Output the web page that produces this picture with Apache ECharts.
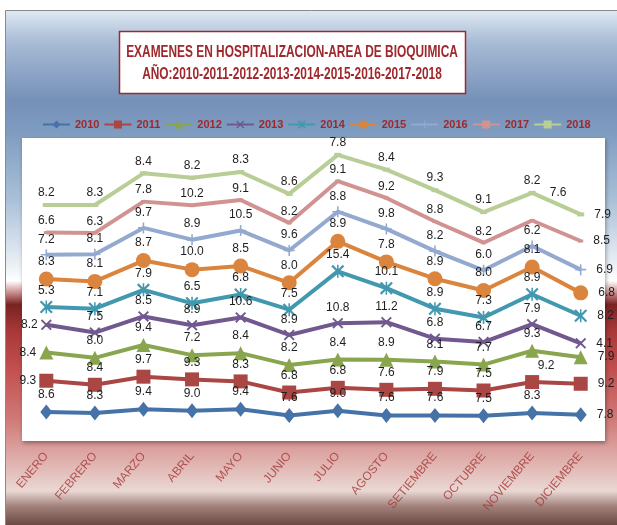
<!DOCTYPE html>
<html lang="es">
<head>
    <meta charset="UTF-8">
    <title>examenes-bioquimica</title>
    <script type="text/javascript" src="https://cdn.jsdelivr.net/npm/echarts@6/dist/echarts.min.js"></script>
    <style>
        html, body { margin: 0; padding: 0; background: #fff; }
    </style>
</head>
<body>
<div id="grafico" style="width: 617px;height: 525px;"></div>
<script type="text/javascript">
    var meses = ['ENERO', 'FEBRERO', 'MARZO', 'ABRIL', 'MAYO', 'JUNIO', 'JULIO', 'AGOSTO', 'SETIEMBRE', 'OCTUBRE', 'NOVIEMBRE', 'DICIEMBRE'];
    var anios = ['2010', '2011', '2012', '2013', '2014', '2015', '2016', '2017', '2018'];

    var v2010 = [8.6, 8.3, 9.4, 9.0, 9.4, 7.6, 9.0, 7.6, 7.6, 7.5, 8.3, 7.8];
    var v2011 = [9.3, 8.4, 9.7, 9.3, 8.3, 6.8, 6.8, 7.6, 7.9, 7.5, 9.2, 9.2];
    var v2012 = [8.4, 8.0, 9.4, 7.2, 8.4, 8.2, 8.4, 8.9, 8.1, 7.7, 9.3, 7.9];
    var v2013 = [8.2, 7.5, 8.5, 8.9, 10.6, 8.9, 10.8, 11.2, 6.8, 6.7, 7.9, 4.1];
    var v2014 = [5.3, 7.1, 7.9, 6.5, 6.8, 7.5, 15.4, 10.1, 8.9, 7.3, 8.9, 8.2];
    var v2015 = [8.3, 8.1, 8.7, 10.0, 8.5, 8.0, 8.9, 7.8, 8.9, 8.0, 8.1, 6.8];
    var v2016 = [7.2, 8.1, 9.7, 8.9, 10.5, 9.6, 8.8, 9.8, 8.2, 6.0, 6.2, 6.9];
    var v2017 = [6.6, 6.3, 7.8, 10.2, 9.1, 8.2, 9.1, 9.2, 8.8, 8.2, 7.6, 8.5];
    var v2018 = [8.2, 8.3, 8.4, 8.2, 8.3, 8.6, 7.8, 8.4, 9.3, 9.1, 8.2, 7.9];

    var valores = [v2010, v2011, v2012, v2013, v2014, v2015, v2016, v2017, v2018];

    var colores = ['#4572A7', '#AA4643', '#89A54E', '#71588F', '#4198AF', '#DB843D', '#93A9CF', '#D19392', '#B9CD96'];

    // marcadores parecidos a los de excel
    var simboloX = 'path://M0,1.2L1.2,0L5,3.8L8.8,0L10,1.2L6.2,5L10,8.8L8.8,10L5,6.2L1.2,10L0,8.8L3.8,5Z';
    var simboloAst = 'path://M0,1.2L1.2,0L5,3.8L8.8,0L10,1.2L6.2,5L10,8.8L8.8,10L5,6.2L1.2,10L0,8.8L3.8,5Z M4.4,0L5.6,0L5.6,10L4.4,10Z';
    var simboloMas = 'path://M4.3,0H5.7V4.3H10V5.7H5.7V10H4.3V5.7H0V4.3H4.3Z';
    var simbolos = ['diamond', 'rect', 'triangle', simboloX, simboloAst, 'circle', simboloMas, 'rect', 'rect'];
    var tamanos = [[12, 15], 14, 14, 11, 13, 15, 11, [5, 3], [7, 4]];

    // etiquetas que excel movio de su sitio: [serie, mes, posicion, desplazamiento]
    var etiquetasMovidas = [
        [1, 0, 'left', [0, 0]], [2, 0, 'left', [0, 0]], [3, 0, 'left', [0, 0]],
        [1, 10, 'top', [14, 0]], [7, 10, 'top', [26, -17]]
    ];

    var fuente = "'Liberation Sans', 'DejaVu Sans', sans-serif";

    var series = [];
    for (var s = 0; s < anios.length; s++) {
        var datos = [];
        for (var i = 0; i < valores[s].length; i++) {
            var item = {value: valores[s][i]};
            if (i === valores[s].length - 1) {
                item.label = {position: 'right', distance: 10};
            }
            for (var k = 0; k < etiquetasMovidas.length; k++) {
                if (etiquetasMovidas[k][0] === s && etiquetasMovidas[k][1] === i) {
                    item.label = {position: etiquetasMovidas[k][2], distance: 3, offset: etiquetasMovidas[k][3]};
                }
            }
            datos.push(item);
        }
        series.push({
            name: anios[s],
            type: 'line',
            stack: 'total',
            symbol: simbolos[s],
            symbolSize: tamanos[s],
            showAllSymbol: true,
            lineStyle: {width: 4, color: colores[s]},
            itemStyle: {color: colores[s]},
            label: {
                show: true,
                position: 'top',
                distance: 4,
                color: '#1e1e1e',
                fontSize: 12,
                fontFamily: fuente,
                formatter: function (p) {
                    return p.value.toFixed(1);
                }
            },
            emphasis: {disabled: true},
            data: datos
        });
    }

    var myChart = echarts.init(document.getElementById('grafico'));
    var option = {
        animation: false,
        backgroundColor: {
            type: 'linear', x: 0, y: 0, x2: 0, y2: 1,
            colorStops: [
                {offset: 0.02, color: '#dfe9f2'},
                {offset: 0.08, color: '#a8bcd6'},
                {offset: 0.19, color: '#7690b8'},
                {offset: 0.25, color: '#7e9bc0'},
                {offset: 0.38, color: '#aac0d8'},
                {offset: 0.50, color: '#e8eef4'},
                {offset: 0.535, color: '#ffffff'},
                {offset: 0.56, color: '#c08080'},
                {offset: 0.58, color: '#7a2222'},
                {offset: 0.63, color: '#a83838'},
                {offset: 0.70, color: '#c24e4e'},
                {offset: 0.80, color: '#d07a78'},
                {offset: 0.895, color: '#e2bcb8'},
                {offset: 0.935, color: '#ead8d4'},
                {offset: 0.965, color: '#a08078'},
                {offset: 1, color: '#6a4a42'}
            ]
        },
        graphic: [
            {type: 'rect', shape: {x: 0, y: 0, width: 617, height: 10}, style: {fill: '#fff'}, silent: true},
            {type: 'rect', shape: {x: 0, y: 0, width: 5, height: 525}, style: {fill: '#fff'}, silent: true},
            {type: 'polyline', shape: {points: [[5.5, 525], [5.5, 10.5], [617, 10.5]]}, style: {stroke: '#8a8a8a', lineWidth: 1, fill: null}, silent: true},
            // cuadro del titulo
            {type: 'rect', shape: {x: 119.5, y: 31.5, width: 346, height: 62}, style: {fill: '#fff', stroke: '#a0282c', lineWidth: 1.5}, silent: true},
            {type: 'text', x: 292, y: 52, scaleX: 0.7, silent: true,
                style: {text: 'EXAMENES EN HOSPITALIZACION-AREA DE BIOQUIMICA', fill: '#a0282c', font: 'bold 17px ' + fuente, textAlign: 'center', textVerticalAlign: 'middle'}},
            {type: 'text', x: 292, y: 74, scaleX: 0.7, silent: true,
                style: {text: 'AÑO:2010-2011-2012-2013-2014-2015-2016-2017-2018', fill: '#a0282c', font: 'bold 17px ' + fuente, textAlign: 'center', textVerticalAlign: 'middle'}}
        ],
        legend: {
            top: 114,
            left: 37,
            itemWidth: 27,
            itemHeight: 10,
            itemGap: 4,
            textStyle: {
                color: '#a0282c',
                fontSize: 11,
                fontWeight: 'bold',
                fontFamily: fuente
            },
            data: anios
        },
        grid: {
            left: 22,
            right: 12,
            top: 138,
            bottom: 84,
            show: true,
            backgroundColor: '#fff',
            borderWidth: 0,
            shadowColor: 'rgba(0,0,0,0.35)',
            shadowBlur: 4,
            shadowOffsetX: 1,
            shadowOffsetY: 2
        },
        xAxis: {
            type: 'category',
            data: meses,
            boundaryGap: true,
            axisLine: {show: false},
            axisTick: {show: false},
            axisLabel: {
                rotate: 50,
                margin: 13,
                color: 'rgba(165,55,55,0.8)',
                fontSize: 12,
                fontFamily: fuente,
                interval: 0
            }
        },
        yAxis: {
            type: 'value',
            min: 0,
            max: 90,
            show: false,
            splitLine: {show: false}
        },
        series: series
    };
    myChart.setOption(option);
</script>
</body>
</html>
